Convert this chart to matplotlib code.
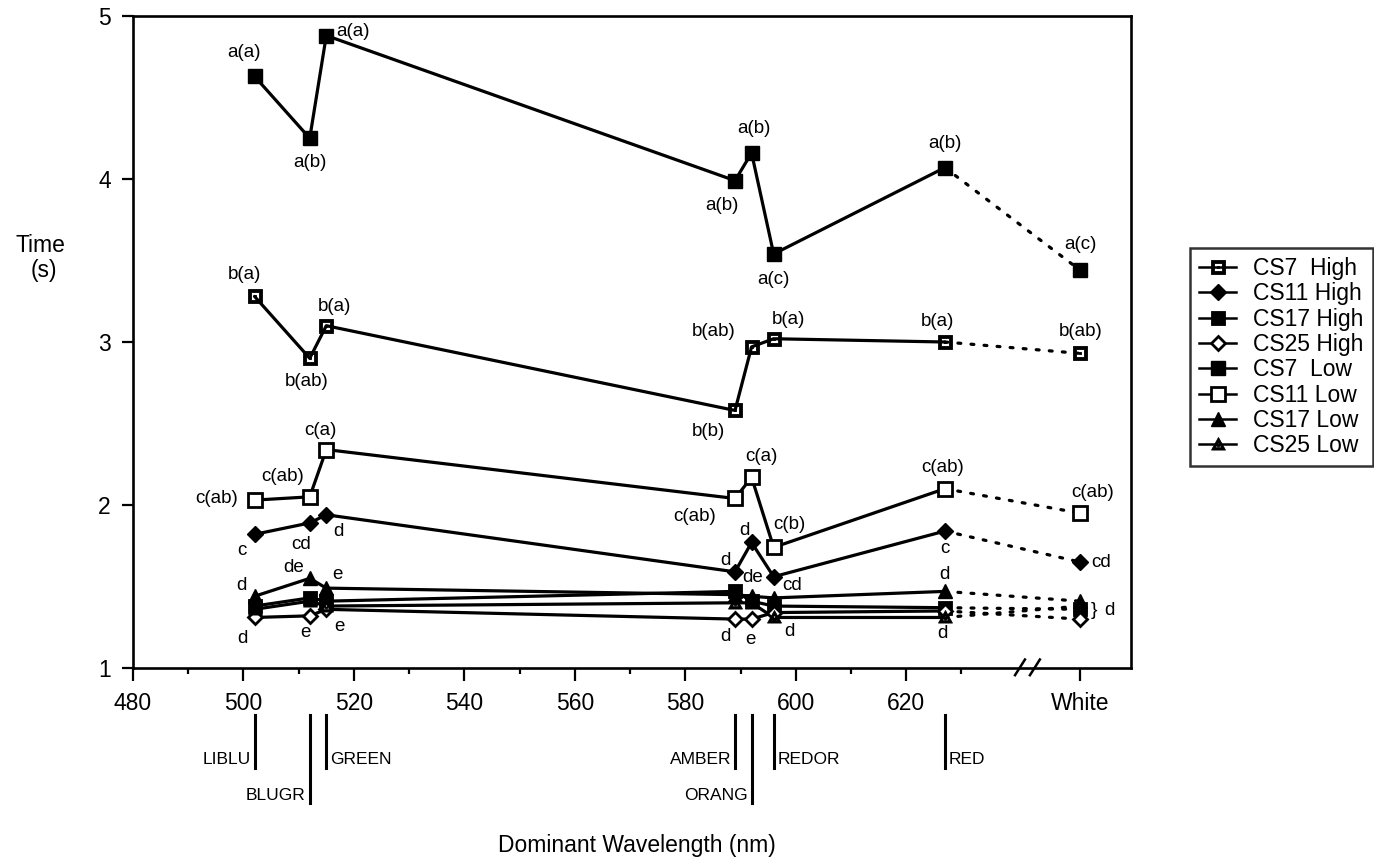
import numpy as np
import matplotlib
matplotlib.use("Agg")
import matplotlib.pyplot as plt
from matplotlib.path import Path
from matplotlib.lines import Line2D
from matplotlib import transforms

plt.rcParams['font.family'] = ['Liberation Sans', 'DejaVu Sans']

# ---- data -------------------------------------------------------------
color_names = ['LIBLU', 'BLUGR', 'GREEN', 'AMBER', 'ORANG', 'REDOR', 'RED']
wavelengths = [502, 512, 515, 589, 592, 596, 627]
WHITE_X = 651.5
x_all = wavelengths + [WHITE_X]

x_ticks = [480, 500, 520, 540, 560, 580, 600, 620]
x_tick_labels = ['480', '500', '520', '540', '560', '580', '600', '620']
y_ticks = [1, 2, 3, 4, 5]

cs7_high = [3.28, 2.90, 3.10, 2.58, 2.97, 3.02, 3.00, 2.93]
cs11_high = [1.82, 1.89, 1.94, 1.59, 1.77, 1.56, 1.84, 1.65]
cs17_high = [1.38, 1.43, 1.41, 1.47, 1.41, 1.38, 1.37, 1.36]
cs25_high = [1.31, 1.32, 1.36, 1.30, 1.30, 1.34, 1.35, 1.30]
cs7_low = [4.63, 4.25, 4.88, 3.99, 4.16, 3.54, 4.07, 3.44]
cs11_low = [2.03, 2.05, 2.34, 2.04, 2.17, 1.74, 2.10, 1.95]
cs17_low = [1.44, 1.55, 1.49, 1.45, 1.44, 1.43, 1.47, 1.41]
cs25_low = [1.36, 1.41, 1.38, 1.40, 1.40, 1.31, 1.31, 1.38]

cs7_low_letters = ['a(a)', 'a(b)', 'a(a)', 'a(b)', 'a(b)', 'a(c)', 'a(b)', 'a(c)']
cs7_high_letters = ['b(a)', 'b(ab)', 'b(a)', 'b(b)', 'b(ab)', 'b(a)', 'b(a)', 'b(ab)']
cs11_low_letters = ['c(ab)', 'c(ab)', 'c(a)', 'c(ab)', 'c(a)', 'c(b)', 'c(ab)', 'c(ab)']
cs11_high_letters = ['c', 'cd', 'd', 'd', 'd', 'cd', 'c', 'cd']
cs17_low_letters = ['d', 'de', 'e', '', 'de', '', 'd', '']
cs25_high_letters = ['d', 'e', 'e', 'd', 'e', '', '', '']
cs25_low_letters = ['', '', '', '', '', 'd', 'd', '']
white_group_letter = 'd'

# ---- label placement (pixel offsets from each point) ------------------
cs7_low_off = [(-11, 24), (0, -24), (27, 4), (-13, -25), (2, 24), (0, -26), (0, 24), (0, 26)]
cs7_high_off = [(-10, 22), (-3, -23), (8, 19), (-27, -21), (-38, 15), (15, 19), (-7, 21), (0, 22)]
cs11_low_off = [(-38, 2), (-27, 20), (-6, 19), (-40, -18), (10, 21), (16, 23), (-2, 21), (12, 21)]
cs11_high_off = [(-13, -16), (-9, -22), (12, -17), (-10, 11), (-7, 12), (18, -9), (0, -17), (21, 0)]
cs17_low_off = [(-13, 11), (-16, 11), (11, 14), None, (1, 19), None, (0, 17), None]
cs25_high_off = [(-12, -21), (-4, -17), (13, -17), (-10, -17), (-1, -20), None, None, None]
cs25_low_off = [None, None, None, None, None, (16, -14), (-2, -16), None]


# ---- marker shapes -----------------------------------------------------
def _sq(h, ccw=True):
    pts = [(-h, -h), (h, -h), (h, h), (-h, h)]
    if not ccw:
        pts = pts[::-1]
    return pts + [pts[0]]


def square_marker(hole=None, dot=None):
    verts = _sq(1.0)
    if hole:
        verts += _sq(hole, ccw=False)
    if dot:
        verts += _sq(dot)
    codes = []
    for _ in range(len(verts) // 5):
        codes += [Path.MOVETO, Path.LINETO, Path.LINETO, Path.LINETO, Path.CLOSEPOLY]
    return Path(verts, codes)


def triangle_ring_marker():
    outer = [(-1.0, -0.8), (1.0, -0.8), (0.0, 1.0)]
    cy = -0.2
    inner = [(x * 0.45, cy + (y - cy) * 0.45) for x, y in outer][::-1]
    d = 0.13
    dot = [(-d, cy - d), (d, cy - d), (d, cy + d), (-d, cy + d)]
    verts = outer + [outer[0]] + inner + [inner[0]] + dot + [dot[0]]
    codes = ([Path.MOVETO, Path.LINETO, Path.LINETO, Path.CLOSEPOLY] * 2 +
             [Path.MOVETO, Path.LINETO, Path.LINETO, Path.LINETO, Path.CLOSEPOLY])
    return Path(verts, codes)


series = [
    ('CS7  High', cs7_high, dict(marker=square_marker(hole=0.58, dot=0.14), ms=10,
                                 mfc='black', mec='black', mew=0.6), cs7_high_letters, cs7_high_off),
    ('CS11 High', cs11_high, dict(marker='D', ms=8.5, mfc='black', mec='black', mew=1),
     cs11_high_letters, cs11_high_off),
    ('CS17 High', cs17_high, dict(marker=square_marker(hole=0.22), ms=9.5,
                                  mfc='black', mec='black', mew=0.6), [], []),
    ('CS25 High', cs25_high, dict(marker='D', ms=7, mfc='white', mec='black', mew=2.0),
     cs25_high_letters, cs25_high_off),
    ('CS7  Low', cs7_low, dict(marker='s', ms=9.5, mfc='black', mec='black', mew=1),
     cs7_low_letters, cs7_low_off),
    ('CS11 Low', cs11_low, dict(marker='s', ms=9.5, mfc='white', mec='black', mew=2.0),
     cs11_low_letters, cs11_low_off),
    ('CS17 Low', cs17_low, dict(marker='^', ms=10, mfc='black', mec='black', mew=1),
     cs17_low_letters, cs17_low_off),
    ('CS25 Low', cs25_low, dict(marker=triangle_ring_marker(), ms=10, mfc='black',
                                mec='black', mew=0.6), cs25_low_letters, cs25_low_off),
]

# ---- figure ------------------------------------------------------------
W, H = 1374, 863
fig = plt.figure(figsize=(W / 100, H / 100), dpi=100)
ax = fig.add_axes([133 / W, 1 - 668 / H, 998 / W, 652 / H])

LW = 2.3
n_solid = len(wavelengths)
for name, ys, mk, letters, offs in series:
    ax.plot(x_all[:n_solid], ys[:n_solid], '-', color='black', lw=LW, zorder=2,
            solid_capstyle='round')
    ax.plot(x_all[n_solid - 1:], ys[n_solid - 1:], color='black', lw=LW,
            linestyle=(0, (0.9, 3.2)), dash_capstyle='round', zorder=2)

for name, ys, mk, letters, offs in series:
    ax.plot(x_all, ys, ls='none', zorder=3, **mk)
    for i, txt in enumerate(letters):
        if txt and offs[i] is not None:
            ax.annotate(txt, (x_all[i], ys[i]), xytext=offs[i], textcoords='offset pixels',
                        ha='center', va='center', fontsize=13.5, zorder=4)

# shared letter for the grouped points at White
y_group = (cs17_high[-1] + cs25_low[-1]) / 2 - 0.02
ax.annotate('}', (WHITE_X, y_group), xytext=(14, 0), textcoords='offset pixels',
            ha='center', va='center', fontsize=14)
ax.annotate(white_group_letter, (WHITE_X, y_group), xytext=(29, 0), textcoords='offset pixels',
            ha='center', va='center', fontsize=13.5)

ax.set_xlim(480, 660.7)
ax.set_ylim(1, 5)
ax.set_xticks(x_ticks + [WHITE_X])
ax.set_xticklabels(x_tick_labels + ['White'])
ax.set_xticks(list(range(490, 631, 20)), minor=True)
ax.set_yticks(y_ticks)
ax.set_yticklabels([str(v) for v in y_ticks])
ax.tick_params(axis='x', which='major', direction='out', length=9, width=1.6,
               labelsize=16.5, pad=8)
ax.tick_params(axis='x', which='minor', direction='out', length=4.5, width=1.6)
ax.tick_params(axis='y', which='major', direction='out', length=8, width=1.6,
               labelsize=16.5, pad=8)
for sp in ax.spines.values():
    sp.set_linewidth(1.9)

# axis break marks between the spectrum and White
blend = transforms.blended_transform_factory(ax.transData, ax.transAxes)
for bx in (640.6, 643.3):
    ax.plot([bx - 0.9, bx + 0.9], [-0.011, 0.013], color='black', lw=1.8,
            transform=blend, clip_on=False, zorder=5)

# colour names under the axis
name_layout = {'LIBLU': ('left', 1), 'BLUGR': ('left', 2), 'GREEN': ('right', 1),
               'AMBER': ('left', 1), 'ORANG': ('left', 2), 'REDOR': ('right', 1),
               'RED': ('right', 1)}


def ax_y(py):
    return (668 - py) / 652


for name, wl in zip(color_names, wavelengths):
    side, level = name_layout[name]
    bottom = 768 if level == 1 else 803
    label_y = 759 if level == 1 else 795
    ax.plot([wl, wl], [ax_y(715), ax_y(bottom)], color='black', lw=2.2,
            transform=blend, clip_on=False)
    ax.annotate(name, (wl, ax_y(label_y)), xycoords=blend,
                xytext=(-4 if side == 'left' else 4, 0), textcoords='offset pixels',
                ha='right' if side == 'left' else 'left', va='center', fontsize=12.5)

# axis titles
fig.text(40 / W, 1 - 245 / H, 'Time', ha='center', va='center', fontsize=16.5)
fig.text(44 / W, 1 - 271 / H, '(s)', ha='center', va='center', fontsize=16.5)
fig.text(637 / W, 1 - 845 / H, 'Dominant Wavelength (nm)', ha='center', va='center',
         fontsize=16.5)

# legend
handles = []
labels = []
for name, ys, mk, letters, offs in series:
    handles.append(Line2D([], [], color='black', lw=1.8, **mk))
    labels.append(name)
leg = fig.legend(handles, labels, loc='upper left', bbox_to_anchor=(1190 / W, 1 - 248 / H),
                 bbox_transform=fig.transFigure, borderaxespad=0, fontsize=16.5,
                 frameon=True, fancybox=False, borderpad=0.4, handlelength=1.6,
                 handletextpad=0.75, labelspacing=0.1)
leg.get_frame().set_edgecolor('black')
leg.get_frame().set_linewidth(1.8)

fig.savefig('out.png', dpi=100)
